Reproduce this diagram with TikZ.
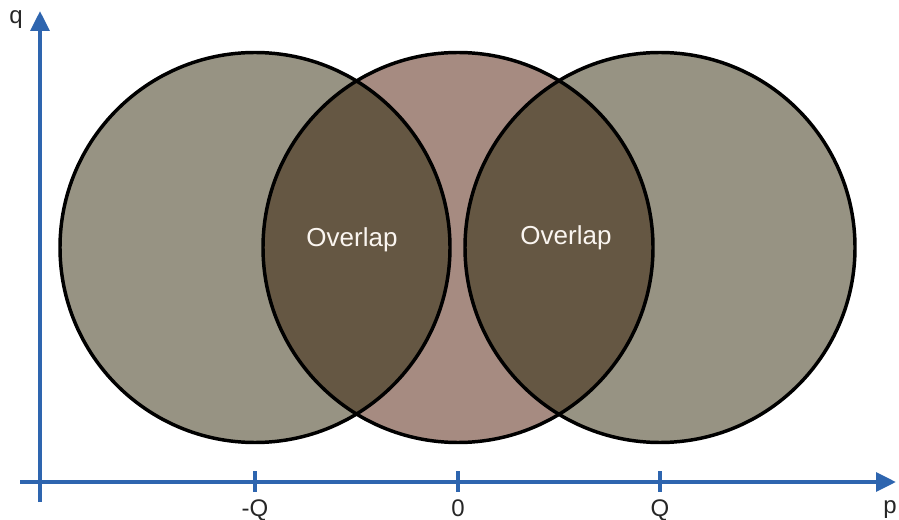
\documentclass[tikz,border=0pt]{standalone}
\usepackage{fontspec}
\setmainfont{Liberation Sans}
\usetikzlibrary{arrows.meta}
\definecolor{axisblue}{RGB}{46,101,175}
\definecolor{sidegrey}{RGB}{151,147,131}
\definecolor{midrose}{RGB}{166,139,129}
\definecolor{lensbrown}{RGB}{101,87,67}
\tikzset{
  axis/.style={draw=axisblue,line width=3pt,-{Triangle[width=14pt,length=15pt]}},
  tick/.style={draw=axisblue,line width=3pt},
  rim/.style={draw=black,line width=2.6pt},
  lab/.style={anchor=base,font=\fontsize{18}{21}\selectfont,text=black!85},
  lens/.style={anchor=base,font=\fontsize{19.5}{23}\selectfont,text=white!92!brown}
}
\begin{document}
\begin{tikzpicture}[x=0.75pt,y=-0.75pt]
  \useasboundingbox (0,0) rectangle (899,520);
  \def\r{195}
  \coordinate (L) at (255,247.5);
  \coordinate (M) at (458,247.5);
  \coordinate (R) at (660,247.5);
  % discs
  \fill[sidegrey] (L) circle (\r);
  \fill[sidegrey] (R) circle (\r);
  \fill[midrose] (M) circle (\r);
  \begin{scope}
    \clip (M) circle (\r);
    \fill[lensbrown] (L) circle (\r);
    \fill[lensbrown] (R) circle (\r);
  \end{scope}
  \draw[rim] (L) circle (\r);
  \draw[rim] (M) circle (\r);
  \draw[rim] (R) circle (\r);
  \node[lens] (ovl) at (352,247) {Overlap};
  \node[lens] (ovr) at (566,245) {Overlap};
  % axes
  \coordinate (xs) at (20,482);
  \coordinate (xe) at (896,482);
  \coordinate (ys) at (40,502);
  \coordinate (ye) at (40,11);
  \draw[axis] (xs) -- (xe);
  \draw[axis] (ys) -- (ye);
  \node[lab] (qlab) at (16,24) {q};
  \node[lab] (plab) at (890,513) {p};
  \foreach \t/\txt/\n in {255/-Q/mQ,458/0/zero,660/Q/pQ}{
    \draw[tick] (\t,471) -- (\t,492);
    \node[lab] (\n) at (\t,516) {\txt};
  }
\end{tikzpicture}
\end{document}
